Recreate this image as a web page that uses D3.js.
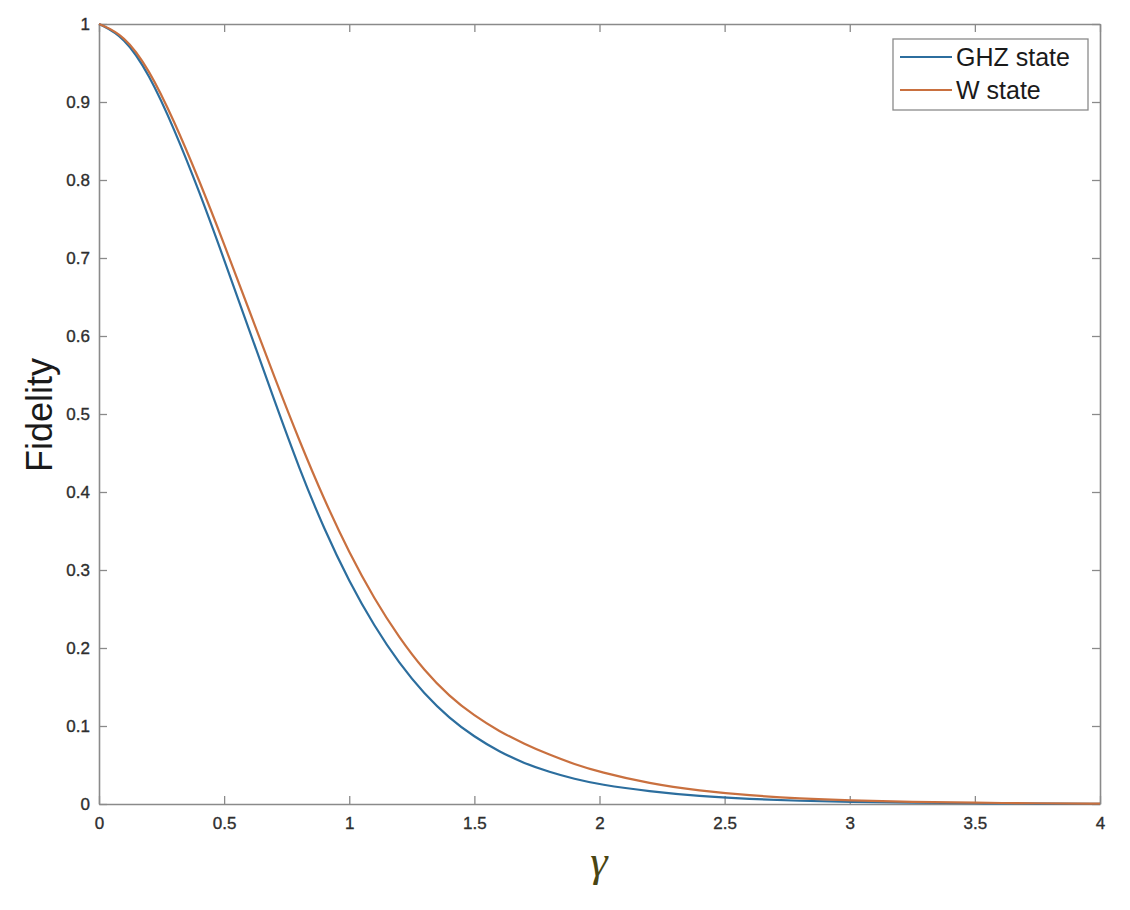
<!DOCTYPE html>
<html lang="en">
<head>
    <meta charset="utf-8">
    <title>Fidelity vs gamma</title>
    <script type="text/javascript" src="https://d3js.org/d3.v7.min.js"></script>
    <style type="text/css">
        body { margin: 0; background: #fff; }
        text { font-family: "Liberation Sans", Arial, sans-serif; }
    </style>
</head>
<body>
<svg width="1130" height="910"></svg>
<script type="text/javascript">

    // values
    const gammaGHZ = [0, 0.1, 0.2, 0.3, 0.4, 0.5, 0.6, 0.7, 0.8, 0.9, 1.0, 1.1, 1.2, 1.3, 1.4, 1.5, 1.6, 1.7, 1.8, 1.9, 2.0, 2.2, 2.4, 2.6, 2.8, 3.0, 3.25, 3.5, 3.75, 4.0];
    const fidGHZ   = [1, 0.984, 0.936, 0.866, 0.786, 0.698, 0.608, 0.518, 0.430, 0.352, 0.285, 0.228, 0.180, 0.141, 0.110, 0.086, 0.067, 0.052, 0.041, 0.032, 0.025, 0.016, 0.010, 0.0065, 0.004, 0.0026, 0.0015, 0.0009, 0.0005, 0.0003];

    const gammaW = [0, 0.1, 0.2, 0.3, 0.4, 0.5, 0.6, 0.7, 0.8, 0.9, 1.0, 1.1, 1.2, 1.3, 1.4, 1.5, 1.6, 1.7, 1.8, 1.9, 2.0, 2.2, 2.4, 2.6, 2.8, 3.0, 3.25, 3.5, 3.75, 4.0];
    const fidW   = [1, 0.986, 0.942, 0.876, 0.800, 0.718, 0.633, 0.548, 0.466, 0.390, 0.322, 0.263, 0.213, 0.171, 0.138, 0.113, 0.093, 0.077, 0.063, 0.051, 0.041, 0.026, 0.017, 0.011, 0.007, 0.0045, 0.0027, 0.0016, 0.0009, 0.0005];

    const seriesNames = ["GHZ state", "W state"];
    const xTicks = [0, 0.5, 1, 1.5, 2, 2.5, 3, 3.5, 4];
    const yTicks = [0, 0.1, 0.2, 0.3, 0.4, 0.5, 0.6, 0.7, 0.8, 0.9, 1];

    const svg = d3.select("svg");
    const colors = ["#2c6e9e", "#c9703f"];
    const axisColor = "#8a8a8a";

    const plotL = 99, plotR = 1100, plotT = 24, plotB = 804;

    const x = d3.scaleLinear().domain([0, 4]).range([plotL, plotR]);
    const y = d3.scaleLinear().domain([0, 1]).range([plotB, plotT]);

    const series = [
        gammaGHZ.map((g, i) => ({g: g, f: fidGHZ[i]})),
        gammaW.map((g, i) => ({g: g, f: fidW[i]}))
    ];

    // axes, MATLAB style box with inner ticks
    const tickFmt = d => d3.format("")(d);
    const gx = svg.append("g").attr("transform", "translate(0," + plotB + ")")
        .call(d3.axisBottom(x).tickValues(xTicks).tickFormat(tickFmt).tickSizeInner(-8).tickSizeOuter(0).tickPadding(13));
    const gy = svg.append("g").attr("transform", "translate(" + plotL + ",0)")
        .call(d3.axisLeft(y).tickValues(yTicks).tickFormat(tickFmt).tickSizeInner(-8).tickSizeOuter(0).tickPadding(9));
    const gt = svg.append("g").attr("transform", "translate(0," + plotT + ")")
        .call(d3.axisTop(x).tickValues(xTicks).tickFormat("").tickSizeInner(-8).tickSizeOuter(0));
    const gr = svg.append("g").attr("transform", "translate(" + plotR + ",0)")
        .call(d3.axisRight(y).tickValues(yTicks).tickFormat("").tickSizeInner(-8).tickSizeOuter(0));

    [gx, gy, gt, gr].forEach(g => {
        g.select(".domain").attr("stroke", axisColor).attr("stroke-width", 1.6);
        g.selectAll(".tick line").attr("stroke", axisColor).attr("stroke-width", 1.3);
        g.selectAll(".tick text").attr("fill", "#2e2e2e")
            .attr("stroke", "#2e2e2e").attr("stroke-width", 0.35)
            .style("font-size", "17px").style("font-family", "Liberation Sans, Arial, sans-serif");
    });

    // curves
    const line = d3.line().x(d => x(d.g)).y(d => y(d.f)).curve(d3.curveBasis);
    svg.selectAll("path.curve")
        .data(series)
        .join("path")
        .attr("class", "curve")
        .attr("d", line)
        .attr("fill", "none")
        .attr("stroke", (d, i) => colors[i])
        .attr("stroke-width", 2.2);

    // legend
    const lg = svg.append("g");
    lg.append("rect")
        .attr("x", 893).attr("y", 39).attr("width", 195).attr("height", 71)
        .attr("fill", "#fff").attr("stroke", axisColor).attr("stroke-width", 1.3);
    seriesNames.forEach((name, i) => {
        const ly = 57 + i * 33;
        lg.append("line")
            .attr("x1", 900).attr("x2", 952).attr("y1", ly).attr("y2", ly)
            .attr("stroke", colors[i]).attr("stroke-width", 2.2);
        lg.append("text")
            .attr("x", 956).attr("y", ly + 9)
            .attr("fill", "#1a1a1a")
            .style("font-size", "25px")
            .text(name);
    });

    // axis labels
    svg.append("text")
        .attr("transform", "translate(52,415) rotate(-90)")
        .attr("text-anchor", "middle")
        .attr("fill", "#1a1a1a")
        .style("font-size", "36px")
        .text("Fidelity");

    svg.append("text")
        .attr("x", 599).attr("y", 876)
        .attr("text-anchor", "middle")
        .attr("fill", "#4a4512")
        .style("font-family", "'Liberation Serif', 'DejaVu Serif', serif")
        .style("font-style", "italic")
        .style("font-size", "44px")
        .text("γ");

</script>
</body>
</html>
